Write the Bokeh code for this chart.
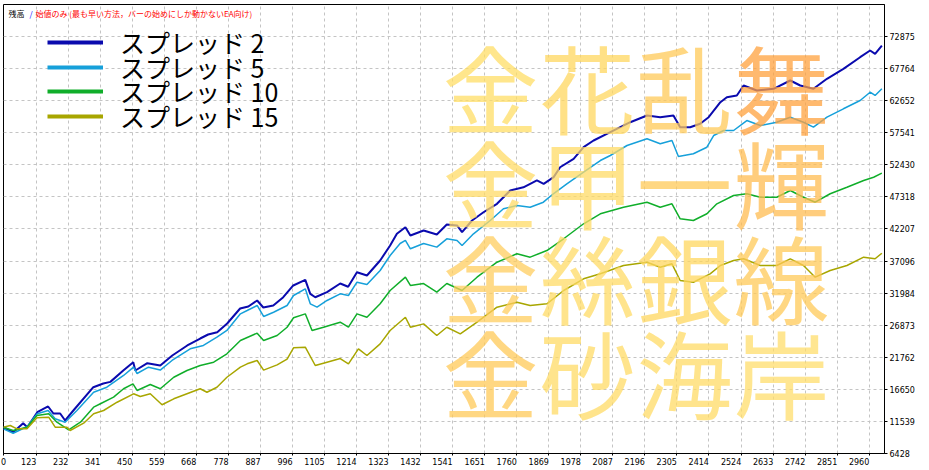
from bokeh.plotting import figure
from bokeh.models import (Range1d, FixedTicker, Label, Legend, LegendItem, NumeralTickFormatter)
from bokeh.embed import file_html
from bokeh.resources import INLINE

# ---------------- data ----------------
SERIES_NAMES = ["スプレッド 2", "スプレッド 5", "スプレッド 10", "スプレッド 15"]

X_S2 = [10, 44, 78, 92, 126, 163, 181, 204, 221, 249, 317, 351, 375, 419, 453, 460, 501, 545, 586, 637,
        681, 708, 739, 773, 817, 845, 875, 896, 930, 964, 998, 1039, 1056, 1073, 1113, 1158, 1185, 1215,
        1249, 1294, 1328, 1351, 1380, 1397, 1442, 1487, 1521, 1556, 1573, 1607, 1646, 1692, 1737, 1782,
        1828, 1851, 1885, 1907, 1953, 1987, 2021, 2078, 2146, 2203, 2248, 2293, 2316, 2350, 2384, 2413,
        2453, 2475, 2509, 2532, 2577, 2634, 2691, 2725, 2770, 2816, 2872, 2929, 2963, 2980, 3003]
Y_S2 = [10620, 9820, 11260, 10620, 13010, 13920, 12800, 12800, 11690, 13280, 16990, 17580, 17840, 19650,
        20970, 19650, 20820, 20450, 22040, 23640, 24750, 25390, 25750, 27140, 29530, 29850, 30810, 29690,
        30010, 31330, 33200, 34100, 31870, 31330, 32130, 33510, 33000, 35310, 34790, 37180, 39570, 41430,
        42480, 41160, 41960, 41320, 42910, 42760, 41690, 43550, 44870, 46210, 48330, 48840, 49930, 49400,
        50460, 52040, 53380, 55230, 56300, 57620, 59210, 60280, 60010, 60280, 58420, 58420, 58960, 60010,
        62400, 63200, 63470, 65060, 64260, 64540, 65860, 65060, 64540, 66130, 67720, 69570, 70640, 70110,
        71430]

X_S5 = [10, 44, 92, 126, 163, 187, 221, 261, 318, 363, 420, 454, 466, 505, 545, 585, 647, 692, 738, 772,
        818, 841, 875, 897, 931, 977, 999, 1039, 1056, 1079, 1113, 1158, 1186, 1215, 1249, 1294, 1328,
        1362, 1380, 1397, 1442, 1487, 1521, 1556, 1573, 1612, 1669, 1714, 1760, 1805, 1850, 1884, 1930,
        1987, 2044, 2078, 2135, 2203, 2248, 2288, 2310, 2361, 2407, 2430, 2464, 2498, 2543, 2589, 2645,
        2691, 2736, 2770, 2816, 2872, 2929, 2963, 2980, 3003]
Y_S5 = [10360, 9660, 10730, 12750, 13280, 11960, 11420, 13280, 16190, 16990, 18860, 20180, 19170, 20180,
        19720, 21250, 23110, 23640, 24960, 26030, 28680, 29210, 30010, 28260, 28940, 30010, 31600, 32660,
        30280, 29740, 30810, 31870, 31600, 33720, 33350, 35590, 37980, 39890, 40370, 39040, 39890, 39310,
        40630, 40370, 39570, 41430, 43550, 45420, 45940, 45670, 46470, 47810, 49400, 51250, 53110, 53910,
        55500, 56570, 55770, 56300, 53750, 54180, 55230, 57090, 57890, 57890, 59480, 58690, 59210, 60010,
        59210, 58420, 60010, 61350, 62670, 63990, 63470, 64540]

X_S10 = [10, 44, 91, 125, 165, 193, 233, 273, 318, 341, 386, 420, 452, 466, 511, 545, 591, 636, 681, 727,
         772, 818, 875, 897, 943, 977, 999, 1039, 1062, 1101, 1158, 1186, 1215, 1249, 1294, 1328, 1380,
         1397, 1442, 1487, 1521, 1573, 1624, 1692, 1760, 1805, 1862, 1919, 1987, 2044, 2123, 2203, 2248,
         2288, 2316, 2361, 2407, 2441, 2498, 2543, 2589, 2645, 2691, 2736, 2776, 2827, 2884, 2941, 2975,
         3003]
Y_S10 = [10620, 10090, 10620, 12480, 12750, 11420, 10200, 11420, 13810, 14350, 15400, 16740, 17530,
         16470, 17420, 16740, 18580, 19650, 20450, 20980, 22310, 24430, 25600, 24430, 25230, 26550, 28050,
         28680, 26030, 26550, 27350, 26550, 28680, 28140, 30280, 32400, 34520, 33200, 33510, 32130, 33510,
         32400, 34520, 36910, 38250, 37710, 38770, 40640, 43030, 44620, 45670, 46470, 45670, 46210, 43820,
         43550, 44620, 46210, 47540, 47810, 47260, 47260, 48330, 47260, 46470, 47810, 48860, 49930, 50450,
         51090]

X_S15 = [10, 34, 57, 91, 125, 165, 187, 227, 238, 284, 318, 352, 398, 454, 477, 511, 551, 591, 636, 681,
         704, 738, 772, 818, 841, 875, 897, 943, 977, 999, 1039, 1073, 1113, 1158, 1186, 1220, 1249, 1294,
         1328, 1380, 1397, 1442, 1487, 1521, 1567, 1624, 1692, 1760, 1805, 1862, 1919, 1987, 2044, 2123,
         2203, 2248, 2288, 2316, 2361, 2418, 2453, 2498, 2532, 2589, 2645, 2691, 2736, 2776, 2827, 2884,
         2941, 2980, 3003]
Y_S15 = [10620, 10890, 10360, 10360, 12120, 12220, 10620, 10620, 10090, 11260, 12750, 13280, 14600, 15940,
         15510, 15940, 14190, 15140, 15940, 16740, 16190, 16990, 18580, 20180, 20720, 21250, 19720, 20550,
         21480, 23270, 23370, 20450, 20970, 21560, 20720, 23110, 22040, 23900, 26030, 28140, 26550, 27080,
         25230, 26550, 25490, 27350, 29740, 30530, 30010, 30280, 32400, 34260, 35060, 36380, 36910, 36110,
         36650, 33990, 33720, 35060, 36380, 37180, 37450, 36380, 36380, 37450, 36380, 34520, 35590, 36380,
         37710, 37450, 38340]

XTICK_LABELS = ["0", "123", "232", "341", "450", "559", "668", "778", "887", "996", "1105", "1214",
                "1323", "1432", "1541", "1651", "1760", "1869", "1978", "2087", "2196", "2305", "2414",
                "2524", "2633", "2742", "2851", "2960"]
XTICKS = [int(s) for s in XTICK_LABELS]
YTICKS = [6428, 11539, 16650, 21762, 26873, 31984, 37096, 42207, 47318, 52430, 57541, 62652, 67764, 72875]

HEADER_PARTS = ["残高", "/", "始値のみ (最も早い方法，バーの始めにしか動かないEA向け)"]
WATERMARK_ROWS = ["金花乱舞", "金甲一輝", "金絲銀線", "金砂海岸"]

# ---------------- style ----------------
COLORS = ["#0A0AAE", "#16A0DA", "#10AE2A", "#A8A600"]
WIDTHS = [2.0, 1.5, 1.5, 1.5]
HEADER_COLORS = ["#000000", "#0000FF", "#FF0000"]
WM_COLORS = [["#FFDE66", "#FFD75F", "#FFCA58", "#FFA23E"],
             ["#FFDB66", "#FFDB66", "#FFCA58", "#FFBC52"],
             ["#FFCE5F", "#FFDB66", "#FFD75F", "#FFCA58"],
             ["#FFCA58", "#FFDB66", "#FFDB66", "#FFDE6C"]]
CJK = "Noto Sans CJK JP"
TICK_FONT = "DejaVu Sans"
X_START, X_END = 11, 3012
Y_START, Y_END = 6428, 77967
FIG_SPACE = "\u2007"
LEGEND_ROW_BOTTOMS = [393, 368, 344, 319]   # screen offsets of each legend row (from frame bottom)

p = figure(width=929, height=470, output_backend="svg", toolbar_location=None,
           x_range=Range1d(X_START, X_END), y_range=Range1d(Y_START, Y_END),
           y_axis_location="right",
           min_border_left=3, min_border_right=45, min_border_top=4, min_border_bottom=17)
p.background_fill_color = "white"
p.border_fill_color = "white"
p.outline_line_color = "black"
p.outline_line_width = 1

# grid
p.grid.grid_line_color = "#C4C4C4"
p.grid.grid_line_dash = "3 3"
p.grid.grid_line_width = 1

# x axis: labels end at their tick (padded with figure spaces so that centring puts digits left of tick)
xticks_pos = [X_START] + XTICKS[1:]
overrides = {X_START: XTICK_LABELS[0]}
for t, lab in zip(XTICKS[1:], XTICK_LABELS[1:]):
    overrides[t] = lab + FIG_SPACE * len(lab)
p.xaxis.ticker = FixedTicker(ticks=xticks_pos)
p.xaxis.major_label_overrides = overrides
p.xaxis.axis_line_color = "black"
p.xaxis.major_tick_line_color = "black"
p.xaxis.major_tick_out = 2
p.xaxis.major_tick_in = 0
p.xaxis.minor_tick_line_color = None
p.xaxis.major_label_standoff = 2
p.xaxis.major_label_text_font = TICK_FONT
p.xaxis.major_label_text_font_size = "8px"
p.xaxis.major_label_text_color = "black"

# y axis on the right
p.yaxis.ticker = FixedTicker(ticks=YTICKS)
p.yaxis.formatter = NumeralTickFormatter(format="0")
p.yaxis.axis_line_color = "black"
p.yaxis.major_tick_line_color = "black"
p.yaxis.major_tick_out = 3
p.yaxis.major_tick_in = 0
p.yaxis.minor_tick_line_color = None
p.yaxis.major_label_standoff = 2
p.yaxis.major_label_text_font = TICK_FONT
p.yaxis.major_label_text_font_size = "8px"
p.yaxis.major_label_text_color = "black"

# series + one single-row legend per series (rows packed tighter than Bokeh's line height)
series = [(X_S2, Y_S2), (X_S5, Y_S5), (X_S10, Y_S10), (X_S15, Y_S15)]
for (xs, ys), name, c, w, vy in zip(series, SERIES_NAMES, COLORS, WIDTHS, LEGEND_ROW_BOTTOMS):
    p.line(xs, ys, line_color=c, line_width=w)
    swatch = p.line(xs, ys, line_color=c, line_width=4, visible=False)
    lg = Legend(items=[LegendItem(label=name, renderers=[swatch])], location=(44, vy),
                background_fill_alpha=0, border_line_color=None,
                label_text_font=CJK, label_text_font_size="25px", label_text_color="black",
                glyph_width=56, glyph_height=20, label_height=20, label_standoff=17,
                spacing=0, padding=0, margin=0, click_policy="none")
    p.add_layout(lg)

# header text
for txt, c, xo in zip(HEADER_PARTS, HEADER_COLORS, [5, 26, 32]):
    p.add_layout(Label(x=xo, y=440.5, x_units="screen", y_units="screen", text=txt,
                       text_align="left", text_baseline="middle",
                       text_font=CJK, text_font_size="8px", text_color=c))

# watermark
for r, row in enumerate(WATERMARK_ROWS):
    for i, ch in enumerate(row):
        p.add_layout(Label(x=487 + 97 * i, y=368 - 95 * r, x_units="screen", y_units="screen",
                           text=ch, text_align="center", text_baseline="middle",
                           text_font=CJK, text_font_size="96px",
                           text_color=WM_COLORS[r][i], text_alpha=0.75))

open("out.html", "w").write(file_html(p, INLINE))
